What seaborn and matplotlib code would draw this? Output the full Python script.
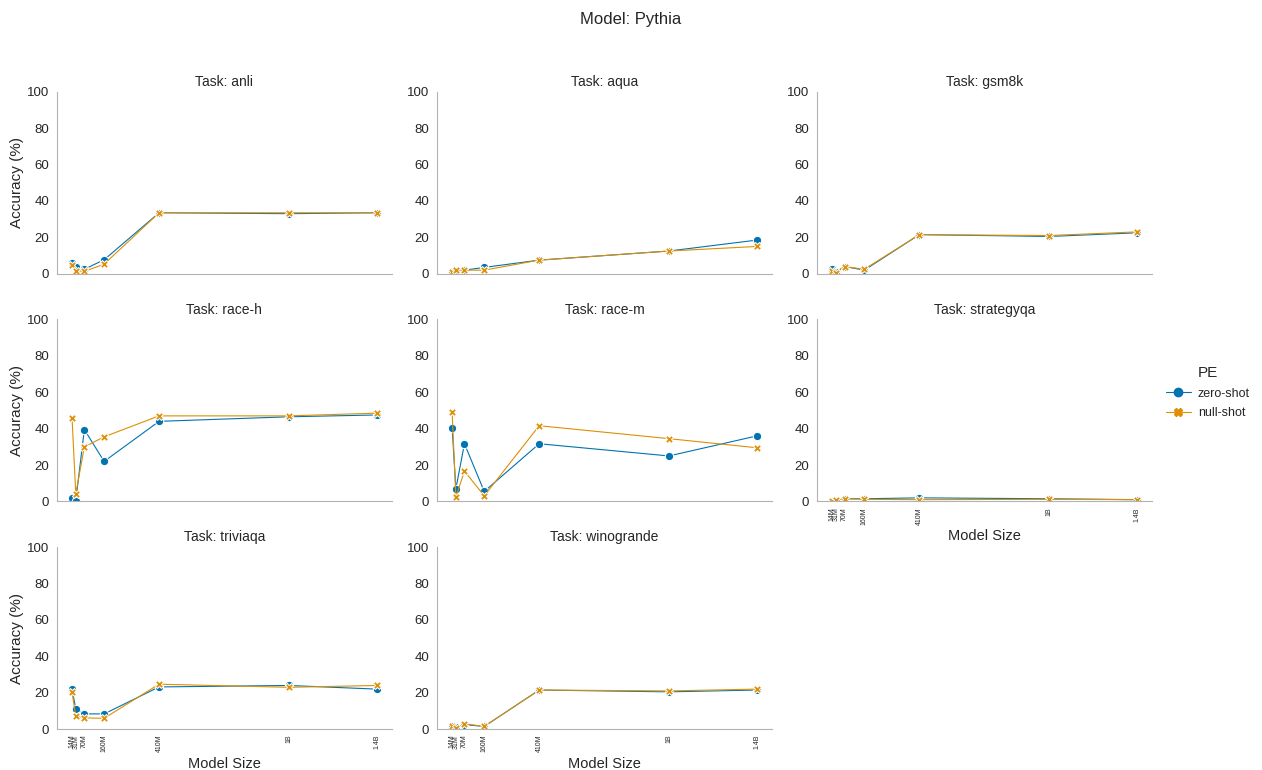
import pandas as pd
import seaborn as sns
import matplotlib.pyplot as plt

# model sizes in millions of parameters
sizes = [14, 31, 70, 160, 410, 1000, 1400]
size_labels = ['14M', '31M', '70M', '160M', '410M', '1B', '1.4B']
tasks = ['anli', 'aqua', 'gsm8k', 'race-h', 'race-m', 'strategyqa', 'triviaqa', 'winogrande']

zero_shot = {
    'anli':       [6.0, 3.5, 2.5, 7.7, 33.5, 33.0, 33.5],
    'aqua':       [1.0, 1.5, 2.0, 3.5, 7.5, 12.5, 18.5],
    'gsm8k':      [2.5, 1.0, 4.0, 2.0, 21.5, 20.5, 22.5],
    'race-h':     [2.0, 0.3, 39.5, 22.0, 44.0, 46.5, 47.5],
    'race-m':     [40.5, 7.0, 31.7, 5.5, 31.7, 25.0, 36.0],
    'strategyqa': [0.5, 0.5, 1.5, 1.5, 2.0, 1.5, 1.0],
    'triviaqa':   [21.8, 11.3, 8.4, 8.4, 23.2, 24.0, 22.0],
    'winogrande': [2.0, 1.0, 2.5, 1.5, 21.5, 20.5, 21.5],
}
null_shot = {
    'anli':       [5.0, 1.8, 1.3, 5.3, 33.5, 33.5, 33.5],
    'aqua':       [1.0, 2.0, 2.0, 2.0, 7.5, 12.5, 15.0],
    'gsm8k':      [1.5, 0.5, 4.0, 2.5, 21.5, 21.0, 23.0],
    'race-h':     [46.0, 4.2, 30.0, 35.5, 47.0, 47.0, 48.5],
    'race-m':     [49.0, 2.4, 16.7, 3.1, 41.6, 34.5, 29.5],
    'strategyqa': [0.5, 1.0, 1.5, 1.2, 1.0, 1.2, 1.0],
    'triviaqa':   [20.2, 7.3, 6.2, 6.0, 24.7, 23.0, 24.0],
    'winogrande': [1.5, 0.5, 3.0, 1.5, 21.5, 21.0, 22.0],
}

rows = []
for t in tasks:
    for pe, d in [('zero-shot', zero_shot), ('null-shot', null_shot)]:
        for s, v in zip(sizes, d[t]):
            rows.append({'Task': t, 'PE': pe, 'Model Size': s, 'Accuracy (%)': v})
df = pd.DataFrame(rows)

sns.set_style('white', {'axes.edgecolor': '.7'})
plt.rcParams['font.family'] = ['Liberation Sans', 'DejaVu Sans']

g = sns.relplot(data=df, x='Model Size', y='Accuracy (%)', hue='PE', style='PE',
                col='Task', col_wrap=3, kind='line', markers=True, dashes=False,
                palette='colorblind', linewidth=0.8, markersize=6,
                facet_kws={'sharex': False, 'sharey': False})
g.fig.set_size_inches(12.62, 7.7)
g.set_titles('Task: {col_name}', size=10, pad=4)
g.set(ylim=(0, 100), yticks=[0, 20, 40, 60, 80, 100])

for i, ax in enumerate(g.axes.flat):
    ax.set_xticks(sizes)
    ax.tick_params(axis='y', labelsize=9.5, length=0, pad=5.5)
    ax.tick_params(axis='x', length=0, pad=4)
    # x labels only on the lowest panel of each column
    if i in (5, 6, 7):
        ax.set_xticklabels(size_labels, rotation=90, fontsize=5)
        ax.set_xlabel('Model Size', fontsize=10.5, labelpad=3)
    else:
        ax.set_xticklabels([])
        ax.set_xlabel('')
    if i % 3 == 0:
        ax.set_ylabel('Accuracy (%)', fontsize=11, labelpad=2)
    else:
        ax.set_ylabel('')

g.fig.subplots_adjust(left=0.045, right=0.913, top=0.881, bottom=0.053,
                      wspace=0.134, hspace=0.25)
g.fig.suptitle('Model: Pythia', fontsize=12, y=0.985)
sns.move_legend(g, 'center left', bbox_to_anchor=(0.914, 0.49), frameon=False,
                handlelength=1.8, handletextpad=0.5)
plt.setp(g.legend.get_title(), fontsize=11)
plt.setp(g.legend.get_texts(), fontsize=9)

plt.savefig('out.png', dpi=100)
